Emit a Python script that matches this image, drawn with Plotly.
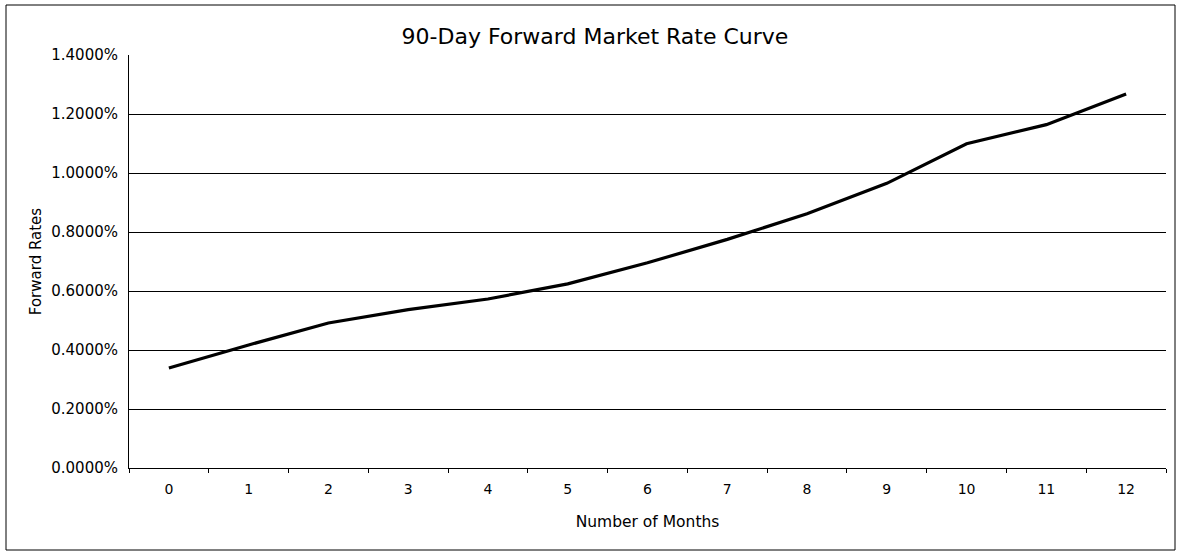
import plotly.graph_objects as go

# ---- data ----
months = [0, 1, 2, 3, 4, 5, 6, 7, 8, 9, 10, 11, 12]
forward_rates_pct = [0.339, 0.417, 0.4915, 0.537, 0.573, 0.624, 0.6955,
                     0.775, 0.862, 0.965, 1.099, 1.164, 1.268]
y_ticks_pct = [0.0, 0.2, 0.4, 0.6, 0.8, 1.0, 1.2, 1.4]
y_tick_labels = ["0.0000%", "0.2000%", "0.4000%", "0.6000%", "0.8000%",
                 "1.0000%", "1.2000%", "1.4000%"]
x_tick_labels = [str(m) for m in months]

W, H = 1181, 554
L, R, T, B = 129, 15, 55, 86
FONT = "DejaVu Sans"

fig = go.Figure()
fig.add_trace(go.Scatter(
    x=x_tick_labels,
    y=forward_rates_pct,
    mode="lines",
    line=dict(color="black", width=3.2),
    showlegend=False,
    hoverinfo="skip",
))

# outer chart border, expressed in paper coordinates from pixel positions
pw = W - L - R
ph = H - T - B
def px_x(p):
    return (p - L) / pw
def px_y(p):
    return (H - B - p) / ph

fig.add_shape(type="rect", xref="paper", yref="paper",
              x0=px_x(6), x1=px_x(1175), y0=px_y(550), y1=px_y(5),
              line=dict(color="black", width=1), fillcolor="rgba(0,0,0,0)",
              layer="below")

fig.update_layout(
    width=W, height=H,
    margin=dict(l=L, r=R, t=T, b=B, autoexpand=False),
    paper_bgcolor="white", plot_bgcolor="white",
    font=dict(family=FONT, color="black", size=14),
    title=dict(text="90-Day Forward Market Rate Curve",
               x=595 / W, xanchor="center",
               y=1 - 36 / H, yanchor="middle",
               font=dict(family=FONT, size=22, color="black")),
    xaxis=dict(
        type="category",
        categoryorder="array", categoryarray=x_tick_labels,
        range=[-0.5, 12.5],
        showline=True, linecolor="black", linewidth=1,
        ticks="outside", ticklen=4, tickcolor="black",
        tickson="boundaries",
        showgrid=False,
        ticklabelstandoff=8,
        tickfont=dict(family=FONT, size=14, color="black"),
        title=dict(text="Number of Months", standoff=20,
                   font=dict(family=FONT, size=15.5, color="black")),
        automargin=False,
        zeroline=False,
    ),
    yaxis=dict(
        range=[0, 1.4],
        tickvals=y_ticks_pct, ticktext=y_tick_labels,
        showline=True, linecolor="black", linewidth=1,
        showgrid=True, gridcolor="black", gridwidth=1,
        ticks="", ticklabelstandoff=7,
        tickfont=dict(family=FONT, size=15, color="black"),
        title=dict(text="Forward Rates", standoff=6,
                   font=dict(family=FONT, size=15, color="black")),
        automargin=False,
        zeroline=False,
    ),
)

fig.write_html("out.html",
               config={"displayModeBar": False},
               post_script="document.body.style.margin='0px';")
